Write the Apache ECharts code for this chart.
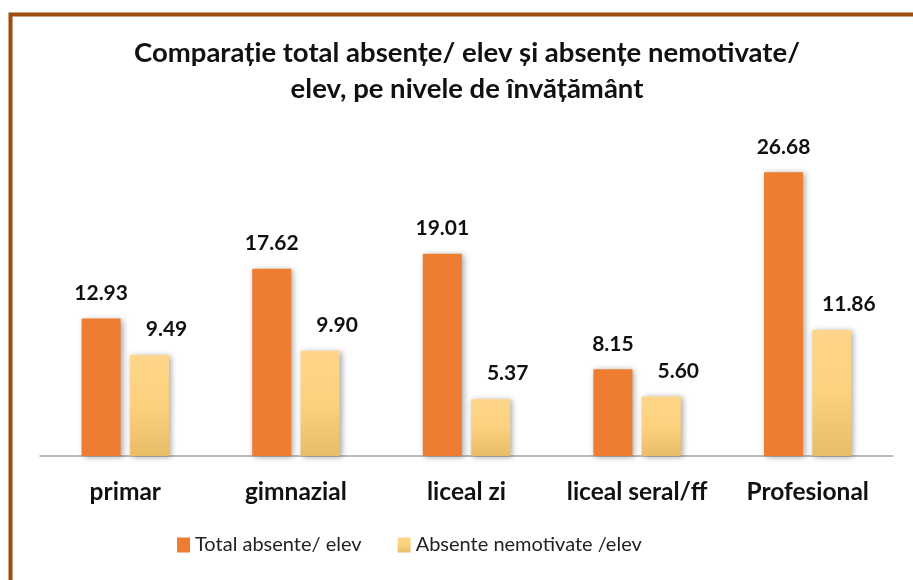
<!DOCTYPE html>
<html>
<head>
<meta charset="utf-8">
<script src="https://cdn.jsdelivr.net/npm/echarts@6/dist/echarts.min.js"></script>
<style>
  html, body { margin: 0; padding: 0; background: #fff; }
  #main { width: 913px; height: 580px; }
</style>
</head>
<body>
<div id="main"></div>
<script>
// date
var categories = ['primar', 'gimnazial', 'liceal zi', 'liceal seral/ff', 'Profesional'];
var totalAbsente = [12.93, 17.62, 19.01, 8.15, 26.68];
var absenteNemotivate = [9.49, 9.90, 5.37, 5.60, 11.86];
var seriesNames = ['Total absente/ elev', 'Absente nemotivate /elev'];

var chart = echarts.init(document.getElementById('main'));

var labelStyle = {
  show: true,
  position: 'top',
  distance: 15,
  fontFamily: 'Lato',
  fontWeight: 'bold',
  fontSize: 21,
  color: '#111',
  formatter: function (p) { return p.value.toFixed(2); }
};

var option = {
  backgroundColor: '#fff',
  animation: false,
  title: {
    text: 'Comparație total absențe/ elev și absențe nemotivate/\nelev, pe nivele de învățământ',
    left: 462,
    top: 30,
    textAlign: 'center',
    textStyle: {
      fontFamily: 'Lato',
      fontWeight: 'bold',
      fontSize: 27.5,
      lineHeight: 36,
      color: '#111'
    }
  },
  legend: {
    bottom: 20,
    left: 172,
    itemWidth: 13,
    itemHeight: 15,
    itemGap: 36,
    icon: 'rect',
    textStyle: { fontFamily: 'Lato', fontSize: 20, color: '#222' },
    data: seriesNames
  },
  grid: { left: 40, right: 20, top: 137, bottom: 124 },
  xAxis: {
    type: 'category',
    data: categories,
    axisLine: { lineStyle: { color: '#a6a6a6', width: 1.5 } },
    axisTick: { show: false },
    axisLabel: {
      interval: 0,
      fontFamily: 'Lato',
      fontWeight: 'bold',
      fontSize: 24.5,
      color: '#111',
      margin: 24
    }
  },
  yAxis: {
    type: 'value',
    min: 0,
    max: 30,
    show: false,
    splitLine: { show: false }
  },
  series: [
    {
      name: seriesNames[0],
      type: 'bar',
      data: totalAbsente,
      barWidth: 39,
      barGap: '24%',
      itemStyle: {
        color: '#ED7D31',
        shadowColor: 'rgba(0,0,0,0.35)',
        shadowBlur: 6,
        shadowOffsetX: 2,
        shadowOffsetY: 1
      },
      label: labelStyle
    },
    {
      name: seriesNames[1],
      type: 'bar',
      data: absenteNemotivate,
      barWidth: 39,
      itemStyle: {
        color: new echarts.graphic.LinearGradient(0, 0, 0, 1, [
          { offset: 0, color: '#FFD68A' },
          { offset: 0.5, color: '#FCD17F' },
          { offset: 1, color: '#E8BD68' }
        ]),
        shadowColor: 'rgba(0,0,0,0.35)',
        shadowBlur: 6,
        shadowOffsetX: 2,
        shadowOffsetY: 1
      },
      label: Object.assign({}, labelStyle, { offset: [17, 0] })
    }
  ],
  graphic: [
    {
      type: 'polyline',
      shape: { points: [[10.5, 580], [10.5, 14.5], [913, 14.5]] },
      style: { stroke: '#9E4B0F', lineWidth: 4, fill: null }
    }
  ]
};

chart.setOption(option);
</script>
</body>
</html>
